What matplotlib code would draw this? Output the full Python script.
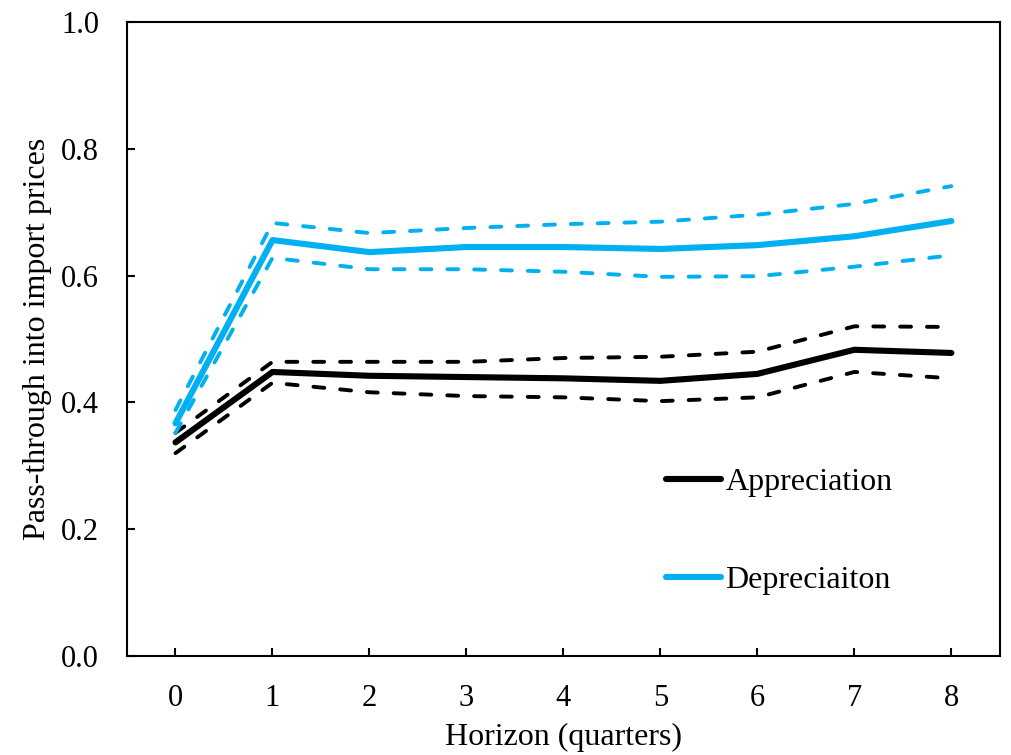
import matplotlib.pyplot as plt

# horizon in quarters
horizon = [0, 1, 2, 3, 4, 5, 6, 7, 8]

# appreciation: estimate and band
appr = [0.337, 0.448, 0.442, 0.440, 0.438, 0.434, 0.445, 0.483, 0.478]
appr_hi = [0.352, 0.464, 0.464, 0.464, 0.470, 0.472, 0.480, 0.520, 0.519]
appr_lo = [0.320, 0.431, 0.416, 0.410, 0.408, 0.402, 0.408, 0.448, 0.438]

# depreciation: estimate and band
depr = [0.367, 0.656, 0.637, 0.645, 0.645, 0.642, 0.648, 0.662, 0.686]
depr_hi = [0.388, 0.683, 0.667, 0.675, 0.681, 0.685, 0.696, 0.713, 0.741]
depr_lo = [0.352, 0.628, 0.610, 0.610, 0.606, 0.598, 0.599, 0.614, 0.632]

blue = '#00B0F0'

plt.rcParams['font.family'] = ['Liberation Serif', 'DejaVu Serif']

fig = plt.figure(figsize=(10.12, 7.55), dpi=100)
ax = fig.add_axes([0.1255, 0.131, 0.8625, 0.84])

dash = dict(linestyle=(0, (2.8, 4.1)), lw=2.8, dash_capstyle='round')

ax.plot(horizon, appr_hi, color='black', **dash)
ax.plot(horizon, appr_lo, color='black', **dash)
ax.plot(horizon, depr_hi, color=blue, **dash)
ax.plot(horizon, depr_lo, color=blue, **dash)
ax.plot(horizon, appr, color='black', lw=4.4, solid_capstyle='round', label='Appreciation')
ax.plot(horizon, depr, color=blue, lw=4.4, solid_capstyle='round', label='Depreciaiton')

ax.set_xlim(-0.5, 8.5)
ax.set_ylim(0, 1.0)
ax.set_xticks(horizon)
ax.set_yticks([0, 0.2, 0.4, 0.6, 0.8, 1.0])
ax.set_yticklabels(['0.0', '0.2', '0.4', '0.6', '0.8', '1.0'])

ax.tick_params(axis='both', direction='in', length=6, width=1.5, labelsize=22, pad=20)
ax.tick_params(axis='x', top=False)
ax.tick_params(axis='y', right=False)
for s in ax.spines.values():
    s.set_linewidth(1.5)

ax.set_xlabel('Horizon (quarters)', fontsize=23, labelpad=7)
ax.set_ylabel('Pass-through into import prices', fontsize=23, labelpad=7)

ax.legend(loc='upper left', bbox_to_anchor=(0.585, 0.342), frameon=False,
          fontsize=23, handlelength=1.7, handletextpad=0.15, labelspacing=2.15)

fig.savefig('out.png', dpi=100)
